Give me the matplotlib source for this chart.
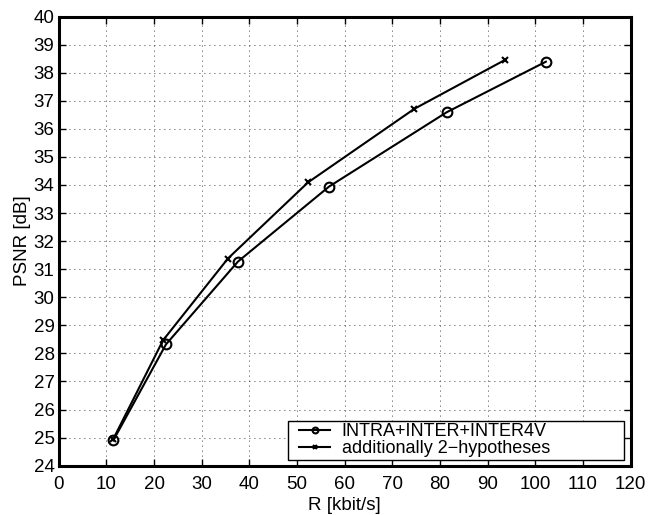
import matplotlib
matplotlib.use("Agg")
import matplotlib.pyplot as plt
from matplotlib.lines import Line2D
from matplotlib.legend_handler import HandlerLine2D

plt.rcParams['font.family'] = ['Liberation Sans', 'DejaVu Sans']

rate_base = [11.45, 22.5, 37.6, 56.7, 81.4, 102.2]
psnr_base = [24.9, 28.32, 31.27, 33.94, 36.59, 38.39]
rate_2h = [11.45, 21.9, 35.5, 52.3, 74.6, 93.7]
psnr_2h = [24.95, 28.47, 31.38, 34.09, 36.71, 38.46]

labels = ["INTRA+INTER+INTER4V", "additionally 2\u2212hypotheses"]
xticks = list(range(0, 121, 10))
yticks = list(range(24, 41, 1))

W, H = 661, 515
left, right, top, bottom = 58.7, 630.7, 16.5, 465.7
fig = plt.figure(figsize=(W / 100, H / 100), dpi=100)
ax = fig.add_axes([left / W, 1 - bottom / H, (right - left) / W, (bottom - top) / H])

ax.plot(rate_base, psnr_base, color='black', lw=1.5, marker='o', ms=7,
        mfc='none', mew=1.5, label=labels[0])
ax.plot(rate_2h, psnr_2h, color='black', lw=1.5, marker='x', ms=4.5,
        mew=1.5, label=labels[1])

ax.set_xlim(0, 120)
ax.set_ylim(24, 40)
ax.set_xticks(xticks)
ax.set_yticks(yticks)
ax.tick_params(direction='in', top=True, right=True, length=5, width=1,
               labelsize=13.5)
ax.tick_params(axis='x', pad=7.5)
ax.tick_params(axis='y', pad=3)
ax.grid(True, color='black', linestyle=(0, (1, 5)), linewidth=0.6)
for s in ax.spines.values():
    s.set_linewidth(2.2)

ax.set_xlabel("R [kbit/s]", fontsize=13.5, labelpad=2.5)
ax.set_ylabel("PSNR [dB]", fontsize=13.5, labelpad=1.5)

axw, axh = right - left, bottom - top
lx0 = (288 - left) / axw
lw_ = (624.3 - 288) / axw
ly0 = (bottom - 460) / axh
leg = ax.legend(loc='lower left', bbox_to_anchor=(lx0, ly0, lw_, 0.2),
                mode='expand', fontsize=13, frameon=True, fancybox=False,
                edgecolor='black', framealpha=1, borderaxespad=0,
                handlelength=2.18, handletextpad=0.65, markerscale=0.6,
                labelspacing=0.0, borderpad=0.15,
                handler_map={Line2D: HandlerLine2D(xpad=0.46)})
leg.get_frame().set_linewidth(1.0)

fig.savefig("out.png", dpi=100)
